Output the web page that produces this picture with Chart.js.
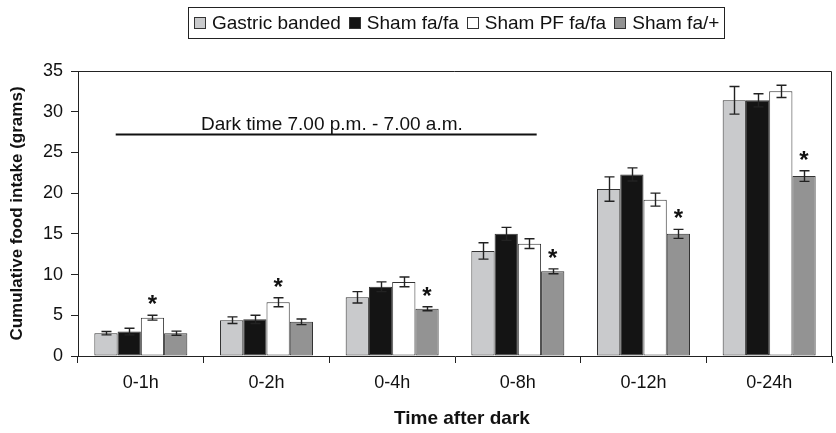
<!DOCTYPE html>
<html>
<head>
<meta charset="utf-8">
<script src="https://cdn.jsdelivr.net/npm/chart.js@4.4.1/dist/chart.umd.min.js"></script>
<style>
    html, body { margin: 0; padding: 0; background: #fff; }
    #wrap { position: relative; width: 836px; height: 433px; }
    #legend {
        position: absolute; left: 188px; top: 7px; height: 30px;
        border: 1px solid #222; box-sizing: content-box;
        display: flex; align-items: center; padding: 0 5px;
        font: 19px 'Liberation Sans', Arial, sans-serif; color: #111;
        white-space: nowrap;
    }
    #legend .item { display: flex; align-items: center; margin-right: 8px; }
    #legend .item:last-child { margin-right: 0; }
    #legend .box { width: 10px; height: 10px; border: 1px solid #333; margin-right: 6px; }
</style>
</head>
<body>
<div id="wrap">
    <canvas id="chart" width="836" height="433"></canvas>
    <div id="legend"></div>
</div>
<script>
// ── data ──
const LABELS = ['0-1h', '0-2h', '0-4h', '0-8h', '0-12h', '0-24h'];
const SERIES = ['Gastric banded', 'Sham fa/fa', 'Sham PF fa/fa', 'Sham fa/+'];
const GASTRIC = [2.8, 4.4, 7.2, 12.9, 20.5, 31.4];
const GASTRIC_ERR = [0.2, 0.4, 0.7, 1.0, 1.5, 1.7];
const SHAM = [3.0, 4.5, 8.5, 15.0, 22.3, 31.4];
const SHAM_ERR = [0.4, 0.5, 0.6, 0.8, 0.8, 0.8];
const SHAM_PF = [4.7, 6.6, 9.1, 13.8, 19.2, 32.5];
const SHAM_PF_ERR = [0.3, 0.55, 0.6, 0.6, 0.8, 0.75];
const LEAN = [2.8, 4.2, 5.8, 10.4, 15.0, 22.1];
const LEAN_ERR = [0.25, 0.35, 0.25, 0.3, 0.55, 0.65];
// which series carries the * in each group
const STAR_SERIES = [2, 2, 3, 3, 3, 3];
// dark-period bar: category span and height in grams
const DARK_FROM = -0.2, DARK_TO = 3.15, DARK_Y = 27.3;
const DARK_TEXT = 'Dark time 7.00 p.m. - 7.00 a.m.';
const X_TITLE = 'Time after dark';

const COLORS = ['#c9cacc', '#141414', '#ffffff', '#939393'];
const INK = '#222';
const FONT = "'Liberation Sans', Arial, sans-serif";

const values = [GASTRIC, SHAM, SHAM_PF, LEAN];
const errors = [GASTRIC_ERR, SHAM_ERR, SHAM_PF_ERR, LEAN_ERR];

// ── legend (html) ──
const legendEl = document.getElementById('legend');
SERIES.forEach((name, i) => {
    const it = document.createElement('div');
    it.className = 'item';
    it.innerHTML = `<span class="box" style="background:${COLORS[i]}"></span><span>${name}</span>`;
    legendEl.appendChild(it);
});

// ── plugins ──
const errorBars = {
    id: 'errorBars',
    afterDatasetsDraw(chart) {
        const ctx = chart.ctx;
        const y = chart.scales.y;
        ctx.save();
        ctx.strokeStyle = INK;
        ctx.lineWidth = 1.4;
        chart.data.datasets.forEach((ds, di) => {
            const meta = chart.getDatasetMeta(di);
            meta.data.forEach((bar, i) => {
                const v = ds.data[i], e = errors[di][i];
                const x = Math.round(bar.x) + 0.5;
                const yt = y.getPixelForValue(v + e), yb = y.getPixelForValue(v - e);
                ctx.beginPath();
                ctx.moveTo(x, yt); ctx.lineTo(x, yb);
                ctx.moveTo(x - 5, yt); ctx.lineTo(x + 5, yt);
                ctx.moveTo(x - 5, yb); ctx.lineTo(x + 5, yb);
                ctx.stroke();
            });
        });
        // significance stars
        ctx.fillStyle = '#111';
        ctx.font = 'bold 24px ' + FONT;
        ctx.textAlign = 'center';
        ctx.textBaseline = 'alphabetic';
        STAR_SERIES.forEach((si, i) => {
            const bar = chart.getDatasetMeta(si).data[i];
            const top = y.getPixelForValue(values[si][i] + errors[si][i]);
            ctx.fillText('*', bar.x, top - 3);
        });
        ctx.restore();
    }
};

const frame = {
    id: 'frame',
    afterDraw(chart) {
        const {ctx, chartArea: a, scales} = chart;
        ctx.save();
        ctx.strokeStyle = INK;
        ctx.lineWidth = 1;
        ctx.beginPath();
        ctx.moveTo(a.left, a.top + 0.5); ctx.lineTo(a.right - 0.5, a.top + 0.5); ctx.lineTo(a.right - 0.5, a.bottom);
        ctx.stroke();
        // dark period line and label
        const x1 = scales.x.getPixelForValue(DARK_FROM), x2 = scales.x.getPixelForValue(DARK_TO);
        const yy = Math.round(scales.y.getPixelForValue(DARK_Y)) + 0.5;
        ctx.lineWidth = 2;
        ctx.strokeStyle = '#111';
        ctx.beginPath();
        ctx.moveTo(x1, yy); ctx.lineTo(x2, yy);
        ctx.stroke();
        ctx.fillStyle = '#111';
        ctx.font = '19px ' + FONT;
        ctx.textAlign = 'center';
        ctx.textBaseline = 'alphabetic';
        ctx.fillText(DARK_TEXT, scales.x.getPixelForValue(1.52), yy - 5);
        // x axis title, sits a little right of the axis centre in the original
        ctx.font = 'bold 19px ' + FONT;
        ctx.textBaseline = 'middle';
        ctx.fillText(X_TITLE, scales.x.getPixelForValue(2.555), 419);
        ctx.restore();
    }
};

// ── chart ──
new Chart(document.getElementById('chart'), {
    type: 'bar',
    data: {
        labels: LABELS,
        datasets: SERIES.map((name, i) => ({
            label: name,
            data: values[i],
            backgroundColor: COLORS[i],
            borderColor: '#333',
            borderWidth: 1,
            borderSkipped: false,
            categoryPercentage: 0.74,
            barPercentage: 1.0,
        }))
    },
    options: {
        responsive: false,
        animation: false,
        layout: {
            padding: { top: 71, right: 4, left: 0, bottom: 0 }
        },
        plugins: {
            legend: { display: false },
            tooltip: { enabled: false }
        },
        scales: {
            x: {
                afterFit: s => { s.height = 77; },
                grid: {
                    display: true,
                    drawOnChartArea: false,
                    tickLength: 7,
                    color: INK
                },
                border: { display: true, color: INK, width: 1 },
                ticks: {
                    color: '#111',
                    padding: 9,
                    font: { family: FONT, size: 18 }
                }
            },
            y: {
                min: 0,
                max: 35,
                afterFit: s => { s.width = 78; },
                grid: {
                    display: true,
                    drawOnChartArea: false,
                    tickLength: 7,
                    color: INK
                },
                border: { display: true, color: INK, width: 1 },
                ticks: {
                    stepSize: 5,
                    color: '#111',
                    padding: 8,
                    font: { family: FONT, size: 18 }
                },
                title: {
                    display: true,
                    text: 'Cumulative food intake (grams)',
                    color: '#111',
                    padding: { top: 7, bottom: 0 },
                    font: { family: FONT, size: 17, weight: 'bold' }
                }
            }
        }
    },
    plugins: [errorBars, frame]
});
</script>
</body>
</html>
